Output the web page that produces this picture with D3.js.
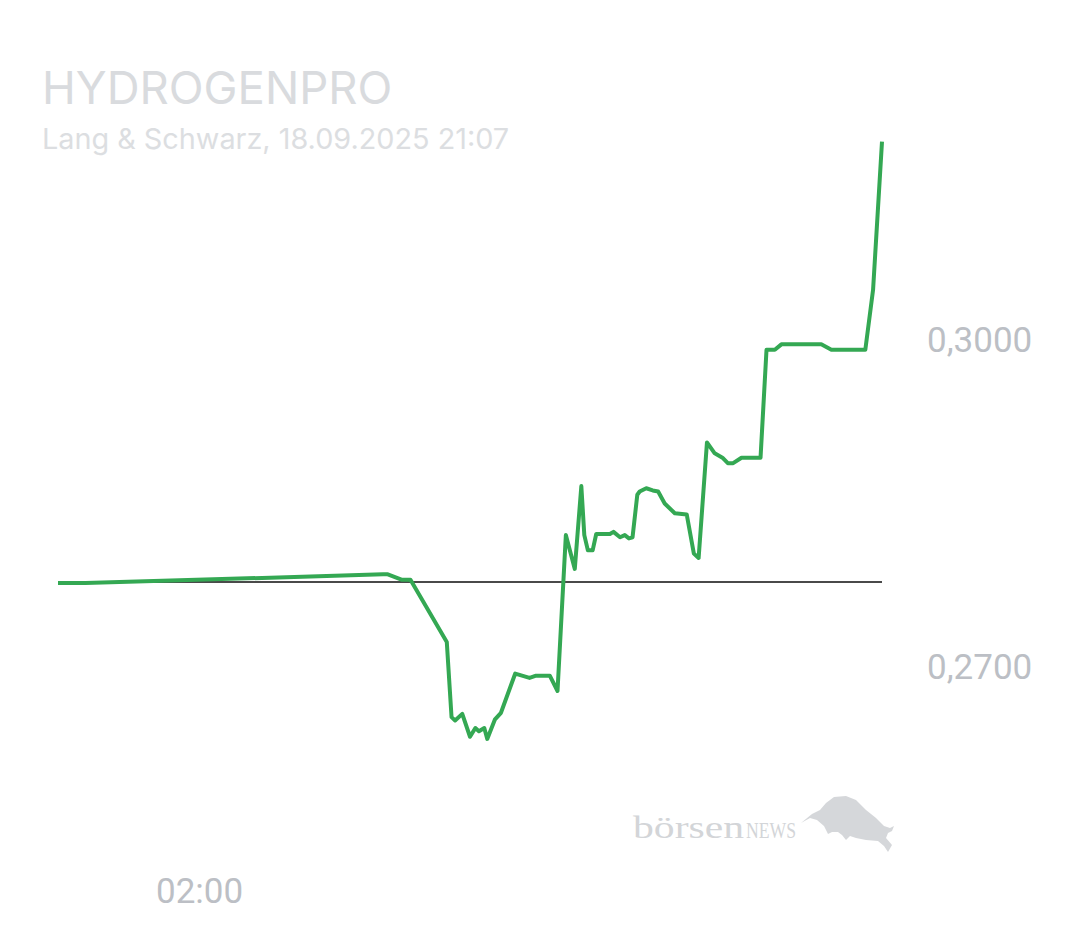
<!DOCTYPE html>
<html>
<head>
<meta charset="utf-8">
<script src="https://cdn.jsdelivr.net/npm/d3@7"></script>
<style>
  html, body { margin: 0; padding: 0; background: #fff; }
  svg { display: block; }
</style>
</head>
<body>
<svg id="svg"></svg>
<script>
// intraday quotes, Lang & Schwarz, 17./18.09.2025
const times = [
  "17.09.2025 22:03", "17.09.2025 22:49", "18.09.2025 07:09", "18.09.2025 07:17",
  "18.09.2025 07:41", "18.09.2025 07:55", "18.09.2025 08:56", "18.09.2025 09:04",
  "18.09.2025 09:10", "18.09.2025 09:22", "18.09.2025 09:35", "18.09.2025 09:44",
  "18.09.2025 09:50", "18.09.2025 09:59", "18.09.2025 10:04", "18.09.2025 10:17",
  "18.09.2025 10:27", "18.09.2025 10:51", "18.09.2025 11:15", "18.09.2025 11:26",
  "18.09.2025 11:49", "18.09.2025 12:02", "18.09.2025 12:16", "18.09.2025 12:31",
  "18.09.2025 12:42", "18.09.2025 12:47", "18.09.2025 12:53", "18.09.2025 13:01",
  "18.09.2025 13:07", "18.09.2025 13:30", "18.09.2025 13:36", "18.09.2025 13:47",
  "18.09.2025 13:55", "18.09.2025 14:02", "18.09.2025 14:08", "18.09.2025 14:16",
  "18.09.2025 14:20", "18.09.2025 14:31", "18.09.2025 14:42", "18.09.2025 14:51",
  "18.09.2025 15:02", "18.09.2025 15:19", "18.09.2025 15:39", "18.09.2025 15:51",
  "18.09.2025 15:59", "18.09.2025 16:13", "18.09.2025 16:26", "18.09.2025 16:39",
  "18.09.2025 16:48", "18.09.2025 16:57", "18.09.2025 17:11", "18.09.2025 17:43",
  "18.09.2025 17:53", "18.09.2025 18:07", "18.09.2025 18:18", "18.09.2025 19:25",
  "18.09.2025 19:42", "18.09.2025 20:39", "18.09.2025 20:52", "18.09.2025 21:07"
]
const prices = [
  0.2777, 0.2777, 0.2785, 0.2785,
  0.2780, 0.2780, 0.2723, 0.2654,
  0.2651, 0.2657, 0.2636, 0.2644,
  0.2641, 0.2644, 0.2634, 0.2652,
  0.2658, 0.2694, 0.2690, 0.2692,
  0.2692, 0.2678, 0.2821, 0.2790,
  0.2866, 0.2821, 0.2807, 0.2807,
  0.2822, 0.2822, 0.2824, 0.2819,
  0.2821, 0.2818, 0.2819, 0.2858,
  0.2861, 0.2864, 0.2862, 0.2861,
  0.2850, 0.2841, 0.2840, 0.2804,
  0.2800, 0.2906, 0.2896, 0.2892,
  0.2887, 0.2887, 0.2892, 0.2892,
  0.2991, 0.2991, 0.2996, 0.2996,
  0.2991, 0.2991, 0.3046, 0.3182
]
const previousClose = 0.2778
const priceTicks = [0.27, 0.30]
const timeTicks = ["18.09.2025 02:00"]

const parseTime = d3.timeParse("%d.%m.%Y %H:%M")
const data = times.map((t, i) => ({ date: parseTime(t), value: prices[i] }))

const svg = d3.select("#svg").attr("width", 1080).attr("height", 945)

const x = d3.scaleTime()
  .domain(d3.extent(data, d => d.date))
  .range([58, 882])

// 0,3000 sits at y 340, 0,2700 at y 667
const y = d3.scaleLinear()
  .domain([0.27, 0.30])
  .range([667, 340])

// title
svg.append("text")
  .attr("x", 42)
  .attr("y", 104)
  .attr("font-family", "Inter")
  .attr("font-size", 45.5)
  .attr("fill", "#d9dbde")
  .text("HYDROGENPRO")

svg.append("text")
  .attr("x", 42)
  .attr("y", 149)
  .attr("font-family", "Inter")
  .attr("font-size", 28.8)
  .attr("fill", "#dcdee1")
  .text("Lang & Schwarz, 18.09.2025 21:07")

// logo
const logo = svg.append("g").attr("fill", "#d3d5d8")
logo.append("text")
  .attr("x", 633)
  .attr("y", 838)
  .attr("font-family", "Liberation Serif")
  .attr("font-size", 32)
  .attr("textLength", 111)
  .attr("lengthAdjust", "spacingAndGlyphs")
  .text("börsen")
logo.append("text")
  .attr("x", 746)
  .attr("y", 838)
  .attr("font-family", "Liberation Serif")
  .attr("font-size", 23)
  .attr("textLength", 50)
  .attr("lengthAdjust", "spacingAndGlyphs")
  .text("NEWS")
logo.append("path")
  .attr("fill", "#d5d7da")
  .attr("d", "M801,823 L812,814 L820,810 L826,803 L834,797 L846,796 L856,800 L866,810 L876,818 L884,826 L890,828 L894,826 L892,831 L888,833 L886,838 L892,845 L888,852 L884,846 L878,841 L866,840 L856,838 L850,836 L846,840 L842,835 L838,832 L832,832 L828,834 L824,826 L817,820 L810,818 Z")

// previous close
svg.append("line")
  .attr("x1", x.range()[0])
  .attr("x2", x.range()[1])
  .attr("y1", y(previousClose))
  .attr("y2", y(previousClose))
  .attr("stroke", "#4a4a4a")
  .attr("stroke-width", 2)

const line = d3.line()
  .x(d => x(d.date))
  .y(d => y(d.value))

svg.append("path")
  .datum(data)
  .attr("d", line)
  .attr("fill", "none")
  .attr("stroke", "#34a853")
  .attr("stroke-width", 4)
  .attr("stroke-linejoin", "round")

// axes
const yAxis = svg.append("g")
  .attr("transform", "translate(927,0)")
  .call(d3.axisRight(y)
    .tickValues(priceTicks)
    .tickSize(0)
    .tickPadding(0)
    .tickFormat(d => d3.format(".4f")(d).replace(".", ",")))
yAxis.select(".domain").remove()
yAxis.selectAll("text")
  .attr("font-family", "Roboto")
  .attr("font-size", 35)
  .attr("fill", "#bcbfc5")

const xAxis = svg.append("g")
  .attr("transform", "translate(0,878)")
  .call(d3.axisBottom(x)
    .tickValues(timeTicks.map(parseTime))
    .tickSize(0)
    .tickPadding(0)
    .tickFormat(d3.timeFormat("%H:%M")))
xAxis.select(".domain").remove()
xAxis.selectAll("text")
  .attr("font-family", "Roboto")
  .attr("font-size", 35)
  .attr("fill", "#bcbfc5")
</script>
</body>
</html>
